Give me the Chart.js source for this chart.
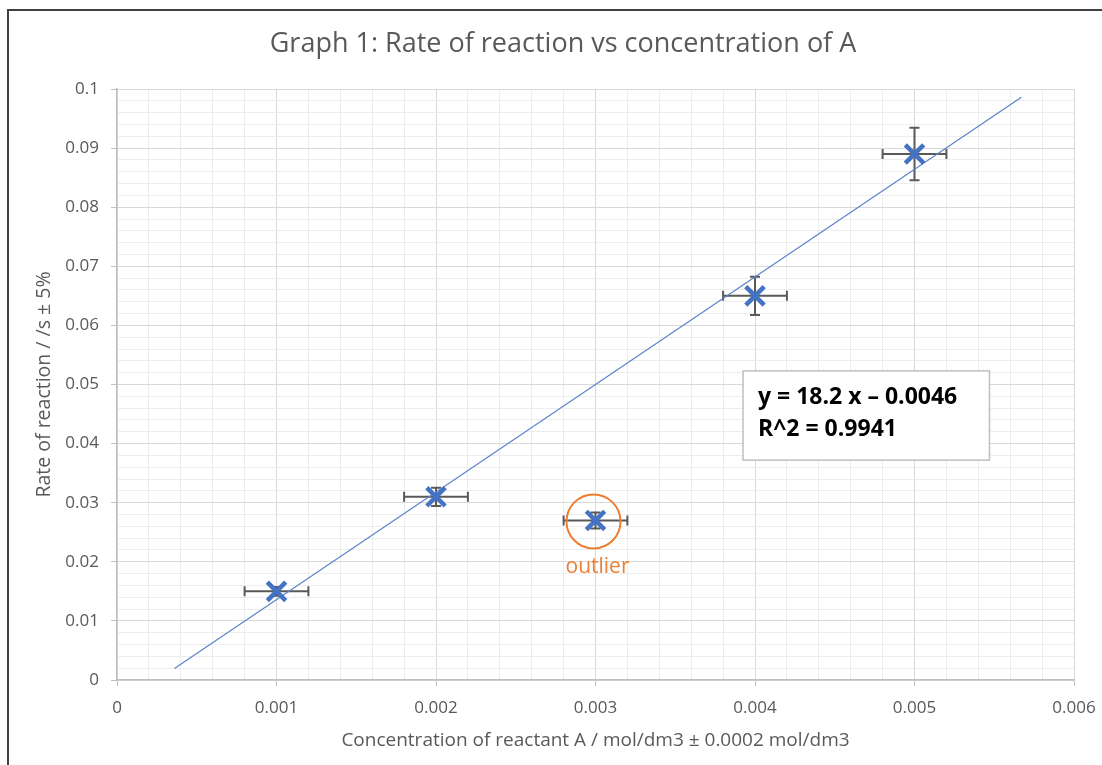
<!DOCTYPE html>
<html>
<head>
<meta charset="utf-8">
<script src="https://cdn.jsdelivr.net/npm/chart.js"></script>
<style>
  html, body { margin: 0; padding: 0; background: #fff; }
  #wrap { position: relative; width: 1102px; height: 765px; }
</style>
</head>
<body>
<div id="wrap"><canvas id="chart" width="1102" height="765"></canvas></div>
<script>
// Messwerte
const CONC = [0.001, 0.002, 0.003, 0.004, 0.005];
const RATE = [0.015, 0.031, 0.027, 0.065, 0.089];
const CONC_ERR = 0.0002;     // ± mol/dm3
const RATE_ERR_PCT = 0.05;   // ± 5 %
const OUTLIER_INDEX = 2;

// Trendlinie (ohne Ausreißer)
const TREND_SLOPE = 18.2;
const TREND_INTERCEPT = -0.0046;
const TREND_R2 = 0.9941;
const TREND_X = [0.00036, 0.00567];

const X_TICKS = { min: 0, max: 0.006, major: 0.001, minor: 0.0002 };
const Y_TICKS = { min: 0, max: 0.1, major: 0.01, minor: 0.002 };

const TITLE = 'Graph 1: Rate of reaction vs concentration of A';
const FONT = "'Open Sans', 'DejaVu Sans', sans-serif";
const TEXT = '#595959';
const BLUE = '#4472C4';
const ORANGE = '#ED7D31';

const isMajor = (v, step) => Math.abs(v / step - Math.round(v / step)) < 1e-6;

function gridOpts(step) {
  return {
    color: c => (c.tick && isMajor(c.tick.value, step)) ? '#d9d9d9' : '#ededed',
    lineWidth: 1,
    tickLength: 6,
    tickColor: c => (c.tick && isMajor(c.tick.value, step)) ? '#bfbfbf' : 'rgba(0,0,0,0)',
  };
}

const errorBars = {
  id: 'errorBars',
  beforeDatasetsDraw(chart) {
    const { ctx, scales: { x, y } } = chart;
    ctx.save();
    ctx.strokeStyle = '#595959';
    ctx.lineWidth = 2;
    const cap = 5;
    CONC.forEach((cx, i) => {
      const px = x.getPixelForValue(cx);
      const py = y.getPixelForValue(RATE[i]);
      const y0 = y.getPixelForValue(RATE[i] * (1 - RATE_ERR_PCT));
      const y1 = y.getPixelForValue(RATE[i] * (1 + RATE_ERR_PCT));
      const x0 = x.getPixelForValue(cx - CONC_ERR);
      const x1 = x.getPixelForValue(cx + CONC_ERR);
      ctx.beginPath();
      ctx.moveTo(px, y0); ctx.lineTo(px, y1);
      ctx.moveTo(px - cap, y0); ctx.lineTo(px + cap, y0);
      ctx.moveTo(px - cap, y1); ctx.lineTo(px + cap, y1);
      ctx.moveTo(x0, py); ctx.lineTo(x1, py);
      ctx.moveTo(x0, py - cap); ctx.lineTo(x0, py + cap);
      ctx.moveTo(x1, py - cap); ctx.lineTo(x1, py + cap);
      ctx.stroke();
    });
    ctx.restore();
  }
};

const decorations = {
  id: 'decorations',
  beforeDraw(chart) {
    const { ctx, width, height } = chart;
    ctx.save();
    ctx.fillStyle = '#fff';
    ctx.fillRect(0, 0, width, height);
    // Rahmen des Diagrammobjekts
    ctx.strokeStyle = '#404040';
    ctx.lineWidth = 2;
    ctx.beginPath();
    ctx.moveTo(8, height);
    ctx.lineTo(8, 10);
    ctx.lineTo(width, 10);
    ctx.stroke();
    // Titel (etwas rechts von der Mitte, wie im Original)
    ctx.fillStyle = TEXT;
    ctx.font = `27px ${FONT}`;
    ctx.textAlign = 'center';
    ctx.textBaseline = 'middle';
    ctx.fillText(TITLE, 563, 44);
    ctx.restore();
  },
  afterDatasetsDraw(chart) {
    const { ctx, scales: { x, y } } = chart;
    ctx.save();
    // Ausreißer markieren
    const ox = x.getPixelForValue(CONC[OUTLIER_INDEX]);
    const oy = y.getPixelForValue(RATE[OUTLIER_INDEX]);
    ctx.strokeStyle = ORANGE;
    ctx.lineWidth = 2;
    ctx.beginPath();
    ctx.arc(ox - 2, oy + 1, 27, 0, Math.PI * 2);
    ctx.stroke();
    ctx.fillStyle = ORANGE;
    ctx.font = `21px ${FONT}`;
    ctx.textAlign = 'center';
    ctx.textBaseline = 'middle';
    ctx.fillText('outlier', ox + 2, oy + 47);

    // Gleichung der Trendlinie
    const bx0 = x.getPixelForValue(0.003925), bx1 = x.getPixelForValue(0.00547);
    const by0 = y.getPixelForValue(0.0523), by1 = y.getPixelForValue(0.0372);
    ctx.fillStyle = '#fff';
    ctx.fillRect(bx0, by0, bx1 - bx0, by1 - by0);
    ctx.strokeStyle = '#bfbfbf';
    ctx.lineWidth = 1.5;
    ctx.strokeRect(bx0, by0, bx1 - bx0, by1 - by0);
    ctx.fillStyle = '#000';
    ctx.font = `bold 23px ${FONT}`;
    ctx.textAlign = 'left';
    ctx.textBaseline = 'alphabetic';
    const sign = TREND_INTERCEPT < 0 ? '\u2013' : '+';
    ctx.fillText(`y = ${TREND_SLOPE} x ${sign} ${Math.abs(TREND_INTERCEPT)}`, bx0 + 15, by0 + 33);
    ctx.fillText(`R^2 = ${TREND_R2}`, bx0 + 15, by0 + 65);
    ctx.restore();
  }
};

const points = CONC.map((c, i) => ({ x: c, y: RATE[i] }));
const trend = TREND_X.map(c => ({ x: c, y: TREND_SLOPE * c + TREND_INTERCEPT }));

new Chart(document.getElementById('chart'), {
  type: 'scatter',
  data: {
    datasets: [
      {
        label: 'Rate',
        data: points,
        pointStyle: 'crossRot',
        pointRadius: 13,
        pointHoverRadius: 13,
        borderColor: BLUE,
        backgroundColor: BLUE,
        borderWidth: 4.5,
        order: 0
      },
      {
        type: 'line',
        label: 'Trend',
        data: trend,
        borderColor: '#5b84cc',
        borderWidth: 1.2,
        pointRadius: 0,
        fill: false,
        order: 1
      }
    ]
  },
  options: {
    responsive: false,
    animation: false,
    layout: { padding: { left: 0, right: 28, top: 89, bottom: 0 } },
    plugins: {
      legend: { display: false },
      tooltip: { enabled: false },
      title: { display: false }
    },
    scales: {
      x: {
        type: 'linear',
        min: X_TICKS.min,
        max: X_TICKS.max,
        border: { color: '#bfbfbf', width: 1.5 },
        grid: gridOpts(X_TICKS.major),
        ticks: {
          stepSize: X_TICKS.minor,
          autoSkip: false,
          maxRotation: 0,
          minRotation: 0,
          padding: 12,
          color: TEXT,
          font: { family: FONT, size: 17 },
          callback: v => isMajor(v, X_TICKS.major) ? String(Number(v.toFixed(4))) : ''
        },
        title: {
          display: true,
          text: 'Concentration of reactant A / mol/dm3 \u00b1 0.0002 mol/dm3',
          color: TEXT,
          font: { family: FONT, size: 19 },
          padding: { top: 0, bottom: 13 }
        },
        afterFit: s => { s.height = 85; s.paddingLeft = 0; s.paddingRight = 0; }
      },
      y: {
        type: 'linear',
        min: Y_TICKS.min,
        max: Y_TICKS.max,
        border: { color: '#bfbfbf', width: 1.5 },
        grid: gridOpts(Y_TICKS.major),
        ticks: {
          stepSize: Y_TICKS.minor,
          autoSkip: false,
          padding: 12,
          color: TEXT,
          font: { family: FONT, size: 17 },
          callback: v => isMajor(v, Y_TICKS.major) ? String(Number(v.toFixed(3))) : ''
        },
        title: {
          display: true,
          text: 'Rate of reaction / /s \u00b1 5%',
          color: TEXT,
          font: { family: FONT, size: 19.5 },
          padding: { top: 33, bottom: 0 }
        },
        afterFit: s => { s.width = 117; s.paddingTop = 0; s.paddingBottom = 0; }
      }
    }
  },
  plugins: [decorations, errorBars]
});
</script>
</body>
</html>
